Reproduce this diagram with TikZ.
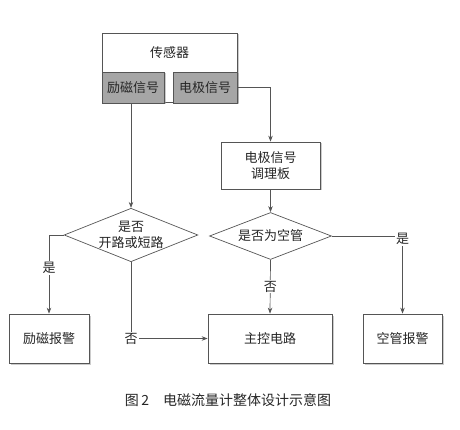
\documentclass[tikz,border=0pt]{standalone}
\usepackage{fontspec}
\setmainfont{Noto Sans CJK SC}
\usetikzlibrary{shapes.geometric,shadows,arrows.meta}
\definecolor{linegray}{HTML}{555555}
\definecolor{subgray}{HTML}{A6A6A6}
\begin{document}
\begin{tikzpicture}[x=1pt, y=-1pt, line width=0.7pt, >={Stealth[length=6pt,width=4.5pt]},
  every node/.style={font=\fontsize{13}{16}\selectfont, text=black!85},
  box node/.style={rectangle, draw=linegray, fill=white, align=center, inner sep=0pt,
    drop shadow={shadow xshift=1.5pt, shadow yshift=-1.5pt, fill=black!40}},
  sub node/.style={box node, fill=subgray},
  ask node/.style={diamond, draw=linegray, fill=white, align=center, inner sep=0pt, aspect=2.5},
  tag/.style={fill=white, inner sep=1pt}]
\useasboundingbox (0,0) rectangle (460,430);
\begin{scope}
\node[box node, minimum width=135pt, minimum height=69pt] (sensor) at (169.5,67.5) {};
\node (sensortext) at (169.5,53) {传感器};
\node[sub node, minimum width=62pt, minimum height=31pt] (exc) at (133,87.5) {励磁信号};
\node[sub node, minimum width=64pt, minimum height=31pt] (elec) at (205,87.5) {电极信号};
\node[box node, minimum width=99pt, minimum height=47pt] (cond) at (270.5,165.5) {电极信号\\调理板};
\node[ask node, minimum width=132pt, minimum height=50pt] (ask1) at (131,235) {是否\\开路或短路};
\node[ask node, minimum width=122pt, minimum height=47pt] (ask2) at (270.5,236) {是否为空管};
\node[box node, minimum width=80pt, minimum height=49pt] (alarm1) at (49,338.5) {励磁报警};
\node[box node, minimum width=124pt, minimum height=49pt] (main) at (270,338.5) {主控电路};
\node[box node, minimum width=79pt, minimum height=49pt] (alarm2) at (402.5,338.5) {空管报警};
\node[font=\fontsize{14}{16}\selectfont] (caption) at (228,400) {图\,2\quad 电磁流量计整体设计示意图};
\end{scope}
\begin{scope}[draw=linegray]
\draw[->] (elec.east) -| (cond.north);
\draw[->] (exc.south -| ask1.north) -- (ask1.north);
\draw[->] (cond.south) -- (ask2.north);
\draw[->] (ask1.west) -| node[tag, pos=0.71]{是} (alarm1.north);
\draw[->] (ask1.south) |- node[tag, pos=0.5]{否} (main.west);
\draw[->] (ask2.south) -- node[tag, midway]{否} (main.north);
\draw[->] (ask2.east) -| node[tag, pos=0.5, yshift=-3pt]{是} (alarm2.north);
\end{scope}
\end{tikzpicture}
\end{document}
